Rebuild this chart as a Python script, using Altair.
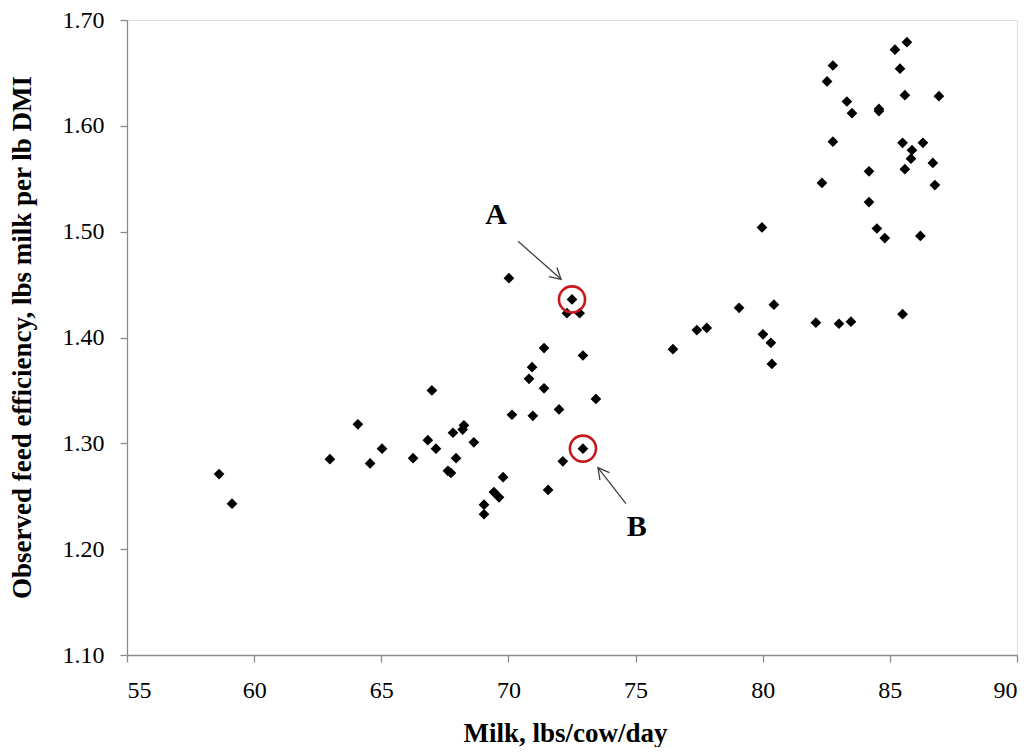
import altair as alt
import pandas as pd

milk = [58.62, 59.13, 62.98, 64.08, 64.56, 65.03, 66.25,
        70.02, 72.50, 72.30, 72.80, 71.40, 72.93, 70.93, 70.81, 71.40, 66.99,
        73.44, 71.99, 70.14, 70.96, 68.25, 68.20, 67.82, 66.83, 68.64, 67.15,
        72.93, 67.94, 72.14, 67.62, 67.74, 69.79, 69.43, 69.63, 71.56, 69.04, 69.04,
        79.07, 80.44, 82.09, 77.41, 77.80, 80.01, 80.32, 76.47, 80.36, 83.00,
        83.47, 85.50, 79.97,
        84.80, 86.20, 85.67, 85.20, 82.76, 85.40, 82.53, 85.59, 86.93, 83.31,
        84.57, 84.57, 83.51, 82.76, 85.50, 86.30, 85.87, 85.83, 86.69, 85.59,
        84.18, 82.33, 86.77, 84.18, 84.49]
efficiency = [1.271, 1.243, 1.285, 1.318, 1.281, 1.295, 1.286,
              1.456, 1.436, 1.423, 1.423, 1.390, 1.383, 1.372, 1.361, 1.352, 1.350,
              1.342, 1.332, 1.327, 1.326, 1.317, 1.313, 1.310, 1.303, 1.301, 1.295,
              1.295, 1.286, 1.283, 1.274, 1.272, 1.268, 1.254, 1.249, 1.256, 1.242, 1.233,
              1.428, 1.431, 1.414, 1.407, 1.409, 1.403, 1.395, 1.389, 1.375, 1.413,
              1.415, 1.422, 1.504,
              1.494, 1.496, 1.679, 1.672, 1.657, 1.654, 1.642, 1.629, 1.628, 1.623,
              1.616, 1.614, 1.612, 1.585, 1.584, 1.584, 1.577, 1.569, 1.565, 1.559,
              1.557, 1.546, 1.544, 1.528, 1.503]

# Annotations
label_text = ["A", "B"]
label_x = [69.51, 75.05]
label_y = [1.516, 1.221]
circle_x = [72.50, 72.93]
circle_y = [1.436, 1.295]
arrow_x_start = [70.38, 74.62]
arrow_y_start = [1.491, 1.243]
arrow_x_end = [72.07, 73.52]
arrow_y_end = [1.455, 1.277]
arrow_angle = [131.5, 322.0]

x_ticks = [55, 60, 65, 70, 75, 80, 85, 90]
y_ticks = [1.10, 1.20, 1.30, 1.40, 1.50, 1.60, 1.70]

pts = pd.DataFrame({"milk": milk, "eff": efficiency})
labels = pd.DataFrame({"t": label_text, "x": label_x, "y": label_y})
circles = pd.DataFrame({"x": circle_x, "y": circle_y})
arrows = pd.DataFrame({"x": arrow_x_start, "y": arrow_y_start,
                       "x2": arrow_x_end, "y2": arrow_y_end, "a": arrow_angle})

FONT = "Liberation Serif"
AXC = "#8a8a8a"

xs = alt.Scale(domain=[55, 90], nice=False, zero=False)
ys = alt.Scale(domain=[1.10, 1.70], nice=False, zero=False)

xaxis = alt.Axis(values=x_ticks, title="Milk, lbs/cow/day", grid=False,
                 domainColor=AXC, tickColor=AXC, tickSize=7, domainWidth=1.3,
                 tickWidth=1.3, labelFont=FONT, labelFontSize=24, labelColor="black",
                 labelPadding=16, titleFont=FONT, titleFontSize=27,
                 titleFontWeight="bold", titleColor="black",
                 titleX=438, titleY=78, titleBaseline="middle", titleAlign="center")
yaxis = alt.Axis(values=y_ticks, format=".2f",
                 title="Observed feed efficiency, lbs milk per lb DMI", grid=False,
                 domainColor=AXC, tickColor=AXC, tickSize=7, domainWidth=1.3,
                 tickWidth=1.3, labelFont=FONT, labelFontSize=24, labelColor="black",
                 labelPadding=16, titleFont=FONT, titleFontSize=27,
                 titleFontWeight="bold", titleColor="black", titleX=-105, titleY=317,
                 titleBaseline="middle", titleAlign="center")

scatter = alt.Chart(pts).mark_point(shape="diamond", filled=True, color="black",
                                    size=115, opacity=1).encode(
    x=alt.X("milk:Q", scale=xs, axis=xaxis),
    y=alt.Y("eff:Q", scale=ys, axis=yaxis),
)

circ = alt.Chart(circles).mark_point(shape="circle", filled=False, color="#C8161D",
                                     strokeWidth=2.6, size=680, opacity=1).encode(
    x=alt.X("x:Q", scale=xs), y=alt.Y("y:Q", scale=ys))

shaft = alt.Chart(arrows).mark_rule(color="#404040", strokeWidth=1.3).encode(
    x=alt.X("x:Q", scale=xs), y=alt.Y("y:Q", scale=ys),
    x2="x2:Q", y2="y2:Q")

head = alt.Chart(arrows).mark_point(shape="M -0.55 1 L 0 0 L 0.55 1", filled=False,
                                    color="#404040", strokeWidth=1.3, size=480,
                                    opacity=1).encode(
    x=alt.X("x2:Q", scale=xs), y=alt.Y("y2:Q", scale=ys),
    angle=alt.Angle("a:Q", scale=None))

txt = alt.Chart(labels).mark_text(font=FONT, fontSize=30, fontWeight="bold",
                                  color="black", align="center",
                                  baseline="middle").encode(
    x=alt.X("x:Q", scale=xs), y=alt.Y("y:Q", scale=ys), text="t:N")

chart = alt.layer(scatter, circ, shaft, head, txt).properties(
    width=890, height=635,
    autosize=alt.AutoSizeParams(type="none"),
    padding={"left": 119, "top": 12, "right": 10, "bottom": 92},
).configure_view(stroke=None).configure(background="white")

chart.save("out.html", embed_options={"renderer": "svg", "actions": False})
